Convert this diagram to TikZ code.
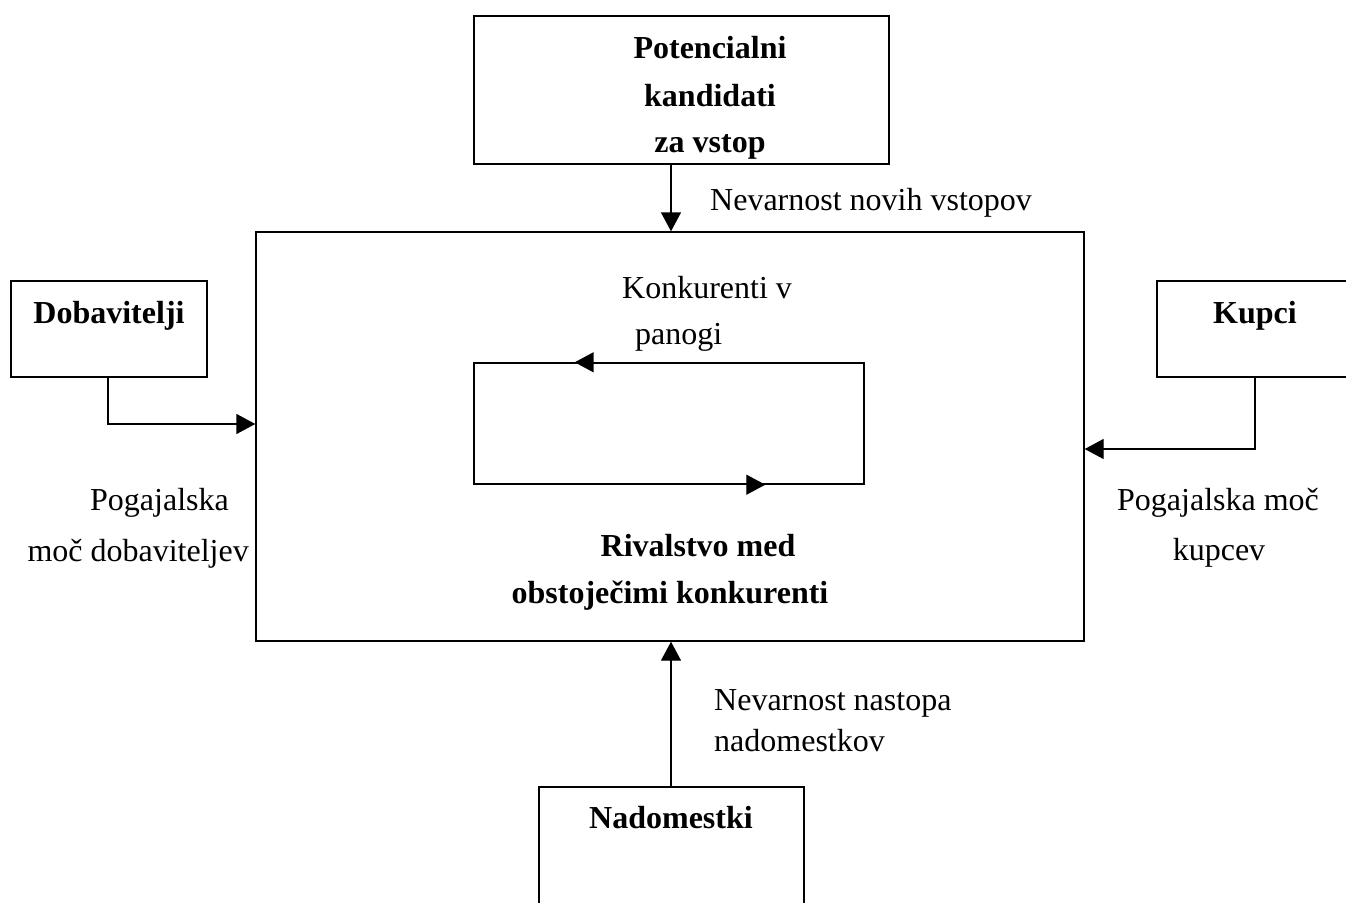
\documentclass[tikz,border=0pt]{standalone}
\usepackage{fontspec}
\setmainfont{Liberation Serif}
\usetikzlibrary{arrows.meta}
\begin{document}
\begin{tikzpicture}[x=1pt,y=-1pt,
  box/.style={draw,line width=1.4pt,inner sep=0pt},
  conn/.style={line width=1.4pt},
  arr/.style={line width=1.4pt,-{Triangle[length=19pt,width=20pt]}},
  txt/.style={inner sep=0pt,font=\fontsize{32}{48}\selectfont},
  btxt/.style={txt,font=\fontsize{32}{48}\selectfont\bfseries}]
\clip (0,0) rectangle (1346,902);
\fill[white] (0,0) rectangle (1346,902);
% boxes
\node[box,minimum width=415pt,minimum height=148pt] (top) at (681.5,90) {};
\node[box,minimum width=828pt,minimum height=409pt] (main) at (670,436.5) {};
\node[box,minimum width=196pt,minimum height=96pt] (dob) at (109,329) {};
\node[box,minimum width=200pt,minimum height=96pt] (kup) at (1257,329) {};
\node[box,minimum width=265pt,minimum height=140pt] (nad) at (671.5,857) {};
\node[box,minimum width=390pt,minimum height=121pt] (loop) at (669,423.5) {};
% texts
\node[btxt,anchor=base] (t1) at (710,58) {Potencialni};
\node[btxt,anchor=base] (t2) at (710,106) {kandidati};
\node[btxt,anchor=base] (t3) at (710,152) {za vstop};
\node[txt,anchor=base west] (l1) at (710,210) {Nevarnost novih vstopov};
\node[txt,anchor=base west] (k1) at (622,298) {Konkurenti v};
\node[txt,anchor=base west] (k2) at (635,344) {panogi};
\node[btxt,anchor=base] (d1) at (109,323) {Dobavitelji};
\node[btxt,anchor=base] (u1) at (1255,323) {Kupci};
\node[txt,anchor=base west] (p1) at (90,510) {Pogajalska};
\node[txt,anchor=base east] (p2) at (249,561) {moč dobaviteljev};
\node[txt,anchor=base] (q1) at (1218,510) {Pogajalska moč};
\node[txt,anchor=base] (q2) at (1219,560) {kupcev};
\node[btxt,anchor=base] (r1) at (698,556) {Rivalstvo med};
\node[btxt,anchor=base] (r2) at (670,603) {obstoječimi konkurenti};
\node[txt,anchor=base west] (n1) at (714,710) {Nevarnost nastopa};
\node[txt,anchor=base west] (n2) at (714,751) {nadomestkov};
\node[btxt,anchor=base] (n3) at (671,828) {Nadomestki};
% connectors
\coordinate (topx) at (671,0);
\draw[arr] (top.south -| topx) -- (main.north -| topx);
\draw[arr] (nad.north -| topx) -- (main.south -| topx);
\coordinate (dobx) at (108,424);
\draw[arr] (dob.south -| dobx) -- (dobx) -- (main.west |- dobx);
\coordinate (kupx) at (1255,449);
\draw[arr] (kup.south -| kupx) -- (kupx) -- (main.east |- kupx);
% loop arrows
\path (loop.north west) -- (loop.north east) coordinate[pos=0.259] (lt);
\path (loop.south west) -- (loop.south east) coordinate[pos=0.746] (lb);
\draw[arr] (loop.north east) -- (lt);
\draw[arr] (loop.south west) -- (lb);
\end{tikzpicture}
\end{document}
